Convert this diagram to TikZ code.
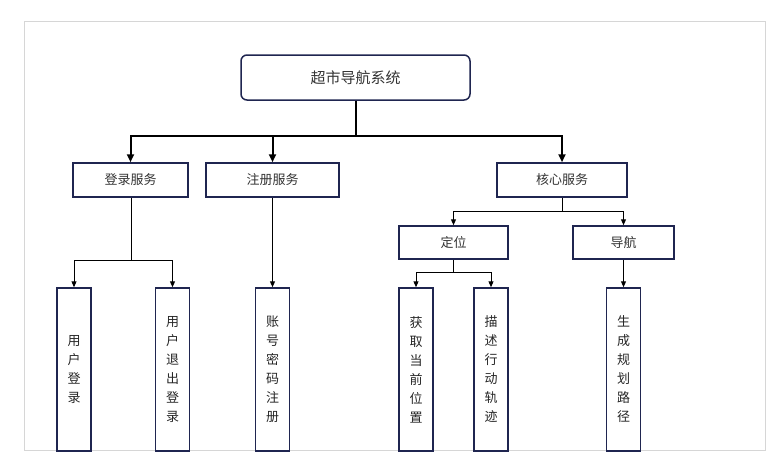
\documentclass[tikz,border=0pt]{standalone}
\usepackage{fontspec}
\newfontfamily\cjk{Noto Sans CJK SC}
\usepackage{tikz}
\usetikzlibrary{arrows.meta}
\definecolor{boxline}{HTML}{1F2550}
\definecolor{framegray}{HTML}{D6D6D6}

\begin{document}
\begin{tikzpicture}[x=1pt,y=-1pt,
		svcbox/.style={draw=boxline, line width=1.5pt, fill=white, rectangle,
			minimum height=34pt, inner sep=0pt, font=\cjk\fontsize{13}{15}\selectfont, text=black!80},
		leafbox/.style={draw=boxline, line width=1.5pt, fill=white, rectangle,
			minimum width=34pt, minimum height=163pt, inner sep=0pt, align=center,
			font=\cjk\fontsize{13}{19}\selectfont, text=black!85},
		mainlink/.style={line width=2pt, -{Triangle[length=8pt,width=7pt]}},
		sublink/.style={line width=1pt, -{Triangle[length=6pt,width=5pt]}}]
			\useasboundingbox (0,0) rectangle (779,475);
			\draw[framegray, line width=1pt] (24,21) rectangle (765,450);

			\node[draw=boxline, line width=1.5pt, fill=white, rectangle, rounded corners=6pt,
			minimum width=229pt, minimum height=45pt,
			font=\cjk\fontsize{15}{17}\selectfont, text=black!80] (sys) at (355.5,77.5) {超市导航系统};

			\node[svcbox, minimum width=115pt] (login) at (130.5,180) {登录服务};
			\node[svcbox, minimum width=133pt] (reg) at (272.5,180) {注册服务};
			\node[svcbox, minimum width=130pt] (core) at (562,180) {核心服务};
			\node[svcbox, minimum width=109pt, minimum height=33pt] (locate) at (453.5,242.5) {定位};
			\node[svcbox, minimum width=101pt, minimum height=33pt] (navi) at (623.5,242.5) {导航};

			\node[leafbox] (userin) at (74,369.5) {用\\户\\登\\录};
			\node[leafbox] (userout) at (172.5,369.5) {用\\户\\退\\出\\登\\录};
			\node[leafbox] (account) at (272.5,369.5) {账\\号\\密\\码\\注\\册};
			\node[leafbox] (getpos) at (416,369.5) {获\\取\\当\\前\\位\\置};
			\node[leafbox] (track) at (491,369.5) {描\\述\\行\\动\\轨\\迹};
			\node[leafbox] (route) at (623.5,369.5) {生\\成\\规\\划\\路\\径};

			\coordinate (sysbus) at (355.5,136);
			\coordinate (loginbus) at (131.5,260);
			\coordinate (corebus) at (562,211);
			\coordinate (locbus) at (453.5,272.5);

			\draw[line width=2pt] (sys) -- (sysbus);
			\draw[mainlink] (sysbus) -| (login);
			\draw[mainlink] (sysbus) -| (reg);
			\draw[mainlink] (sysbus) -| (core);

			\draw[line width=1pt] (login.south -| loginbus) -- (loginbus);
			\draw[sublink] (loginbus) -| (userin);
			\draw[sublink] (loginbus) -| (userout);
			\draw[sublink] (reg) -- (account);

			\draw[line width=1pt] (core) -- (corebus);
			\draw[sublink] (corebus) -| (locate);
			\draw[sublink] (corebus) -| (navi);
			\draw[line width=1pt] (locate) -- (locbus);
			\draw[sublink] (locbus) -| (getpos);
			\draw[sublink] (locbus) -| (track);
			\draw[sublink] (navi) -- (route);
		\end{tikzpicture}
\end{document}
